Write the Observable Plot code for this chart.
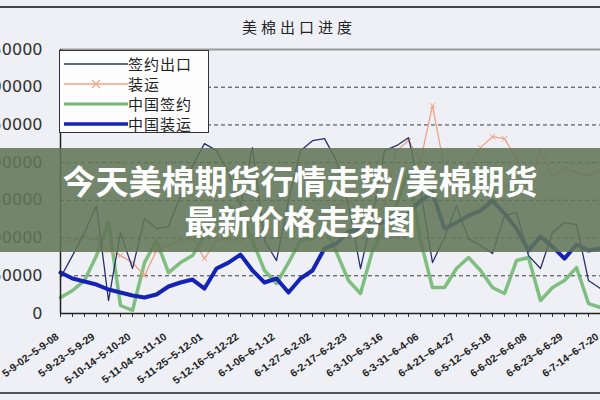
<!DOCTYPE html>
<html>
<head>
<meta charset="utf-8">
<script src="https://cdn.jsdelivr.net/npm/d3@7"></script>
<script src="https://cdn.jsdelivr.net/npm/@observablehq/plot@0.6"></script>
<style>
  html, body { margin: 0; padding: 0; }
  body { width: 600px; height: 400px; overflow: hidden; background: #eef0f5; position: relative; font-family: "Noto Sans CJK SC", "DejaVu Sans", sans-serif; }
  #topline { position: absolute; left: 0; top: 6px; width: 600px; height: 2px; background: #444; }
  #bottomline { position: absolute; left: 0; top: 392px; width: 600px; height: 2px; background: #555; }
  #title { position: absolute; left: 0; top: 16px; width: 598px; text-align: center; font-size: 15px; letter-spacing: 4px; color: #222; }
  #chart { position: absolute; left: 0; top: 0; }
  #legend { position: absolute; left: 59px; top: 50px; width: 148px; height: 81px; background: #fdfdfe; border: 1.5px solid #333; }
  #legend .row { position: absolute; left: 0; height: 20px; width: 148px; }
  #legend svg { position: absolute; left: 4px; top: 0; }
  #legend span { position: absolute; left: 68px; top: 0; font-size: 15px; line-height: 20px; color: #222; letter-spacing: 1px; }
  #banner { position: absolute; left: 0; top: 148px; width: 600px; height: 104px; background: rgba(98,118,88,0.88); color: #fff; text-align: center; font-weight: bold; font-size: 33px; line-height: 40px; padding-top: 12px; box-sizing: border-box; font-family: "Noto Sans CJK SC", sans-serif; }
</style>
</head>
<body>
<div id="topline"></div>
<div id="title"></div>
<div id="chart"></div>
<div id="legend"></div>
<div id="bottomline"></div>
<div id="banner"></div>
<script>
// ---- data ----
const chartTitle = "美棉出口进度";
const bannerLines = ["今天美棉期货行情走势/美棉期货", "最新价格走势图"];
const seriesNames = ["签约出口", "装运", "中国签约", "中国装运"];
const yTicks = [0, 50000, 100000, 150000, 200000, 250000, 300000, 350000];
// one label per three weeks (week ranges, 2005-2006)
const weekLabels = [
  "5-9-02~5-9-08", "5-9-23~5-9-29", "5-10-14~5-10-20", "5-11-04~5-11-10",
  "5-11-25~5-12-01", "5-12-16~5-12-22", "6-1-06~6-1-12", "6-1-27~6-2-02",
  "6-2-17~6-2-23", "6-3-10~6-3-16", "6-3-31~6-4-06", "6-4-21~6-4-27",
  "6-5-12~6-5-18", "6-6-02~6-6-08", "6-6-23~6-6-29", "6-7-14~6-7-20"
];
const signedExport = [47700,76800,107300,143000,17200,107300,59600,125800,112600,115200,
  156300,196000,225200,215900,186800,143000,219900,96700,70200,149700,
  215900,229100,231800,202600,143000,59600,129800,215900,222500,233100,
  162900,67500,100700,143000,99300,90100,79500,129800,133800,76800,
  59600,107300,120500,117900,43700,33100];
const shipped = [92700,96700,102000,96700,83400,76800,67500,50300,83400,90100,
  96700,99300,72800,96700,99300,96700,103300,112600,109900,116600,
  112600,136400,129800,143000,149700,136400,129800,143000,215900,229100,
  202600,275500,192000,160300,196000,219900,234400,231800,205300,172200,
  215900,181500,192000,186800,182800,189400];
const chinaSigned = [21200,30500,43700,76800,120500,10600,4000,67500,96700,54300,
  67500,76800,103300,123200,143000,129800,96700,57000,39700,67500,
  96700,99300,115200,80800,43700,26500,83400,112600,143000,189400,
  96700,34400,34400,59600,74200,57000,34400,26500,70200,74200,
  17200,34400,43700,60900,13200,7900];
const chinaShipped = [54300,46400,42400,38400,31800,27800,23800,21200,25200,35800,
  41100,45000,33100,59600,67500,78100,57000,41100,46400,27800,
  46400,57000,86100,92700,108600,111300,115200,121900,125800,132500,
  149700,160300,112600,120500,129800,136400,149700,132500,112600,83400,
  102000,88700,72800,91400,83400,86100];

const colors = ["#27306e", "#f0a184", "#72b872", "#1423b4"];
const widths = [1.3, 1.3, 3.5, 4];

// ---- build ----
const idx = d3.range(signedExport.length);
const labelIdx = idx.filter(i => i % 3 === 0);
const series = [signedExport, shipped, chinaSigned, chinaShipped];
const rows = series.flatMap((s, k) => s.map((v, i) => ({i, v, name: seriesNames[k]})));

document.getElementById("title").textContent = chartTitle;
document.getElementById("banner").innerHTML = bannerLines.map(t => `<div>${t}</div>`).join("");

const lg = document.getElementById("legend");
seriesNames.forEach((n, k) => {
  const row = document.createElement("div");
  row.className = "row";
  row.style.top = (3 + k * 20) + "px";
  const marker = k === 1 ? `<path d="M28,6 L36,14 M36,6 L28,14" stroke="${colors[1]}" stroke-width="1.2"/>` : "";
  row.innerHTML = `<svg width="64" height="20"><line x1="0" x2="64" y1="10" y2="10" stroke="${colors[k]}" stroke-width="${k < 2 ? 1.5 : widths[k] - 0.5}"/>${marker}</svg><span>${n}</span>`;
  lg.appendChild(row);
});

const marks = [
  Plot.ruleY(yTicks.filter(t => t > 0 && t < 350000), {stroke: "#3a3a3a", strokeDasharray: "4,3", strokeWidth: 1}),
  Plot.ruleY([350000], {stroke: "#9a9a9a", strokeWidth: 2}),
  Plot.axisY({ticks: yTicks, label: null, tickSize: 0, tickPadding: 18, fontSize: 16, fontFamily: "DejaVu Sans", fill: "#333", tickFormat: d => String(d)}),
  Plot.axisX({ticks: idx, label: null, tickSize: 4, tickFormat: () => "", stroke: "#333"}),
  Plot.axisX({ticks: labelIdx, label: null, tickSize: 0, tickPadding: 8, dy: 14, dx: -3, tickRotate: -36, fontSize: 10.5, fontWeight: "bold", fontFamily: "Liberation Sans", fill: "#222", tickFormat: i => weekLabels[labelIdx.indexOf(i)]}),
  Plot.line(rows.filter(d => d.name === seriesNames[2]), {x: "i", y: "v", stroke: colors[2], strokeWidth: widths[2], strokeOpacity: 0.9}),
  Plot.line(rows.filter(d => d.name === seriesNames[1]), {x: "i", y: "v", stroke: colors[1], strokeWidth: widths[1]}),
  Plot.dot(rows.filter(d => d.name === seriesNames[1]), {x: "i", y: "v", stroke: colors[1], symbol: "times", r: 2.5, strokeWidth: 1}),
  Plot.line(rows.filter(d => d.name === seriesNames[0]), {x: "i", y: "v", stroke: colors[0], strokeWidth: widths[0]}),
  Plot.line(rows.filter(d => d.name === seriesNames[3]), {x: "i", y: "v", stroke: colors[3], strokeWidth: widths[3]}),
  Plot.ruleX([0], {stroke: "#222", strokeWidth: 1.5}),
  Plot.ruleY([0], {stroke: "#222", strokeWidth: 1.5})
];

const chart = Plot.plot({
  width: 600, height: 400,
  marginLeft: 60, marginRight: 0, marginTop: 49, marginBottom: 87,
  style: {background: "transparent", overflow: "visible"},
  x: {domain: [0, 45], axis: null},
  y: {domain: [0, 350000], axis: null},
  marks
});
document.getElementById("chart").appendChild(chart);
</script>
</body>
</html>
